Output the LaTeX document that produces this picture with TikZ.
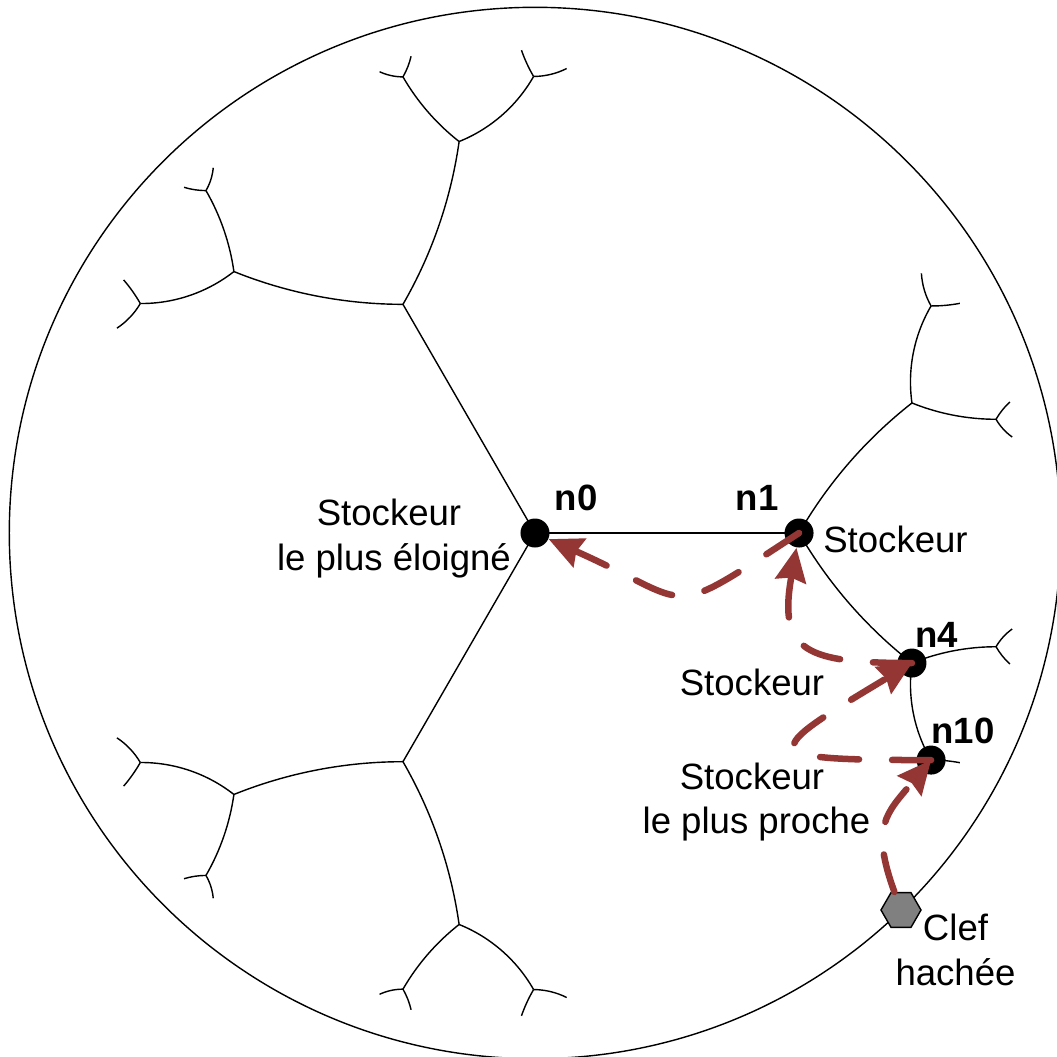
\documentclass[tikz,border=0pt]{standalone}
\usepackage{fontspec}
\setmainfont{Liberation Sans}
\usetikzlibrary{calc,arrows.meta,shapes.geometric}
\definecolor{rouge}{RGB}{148,54,52}
\tikzset{
  treeline/.style={draw=black, line width=0.4pt},
  disk/.style={x=5.257cm, y=5.257cm},
  dot/.style={circle, fill=black, minimum size=0.29cm, inner sep=0pt},
  keyhex/.style={regular polygon, regular polygon sides=6, minimum size=0.40cm, inner sep=0pt, draw=black, line width=0.4pt, fill=black!50},
  lbl/.style={anchor=base, inner sep=0pt, font=\fontsize{10.4pt}{12pt}\selectfont},
  nlbl/.style={anchor=base, inner sep=0pt, font=\fontsize{10.4pt}{12pt}\selectfont\bfseries},
  route/.style={draw=rouge, line width=0.065cm, line cap=round, dash pattern=on 0.39cm off 0.33cm,
    -{Stealth[length=0.34cm,width=0.32cm,inset=0.04cm,fill=rouge,line width=0.5pt]}}
}
% one half of a branch of the hyperbolic tree (Poincare disk, unit radius)
\newcommand\halfbranch[1]{%
  \coordinate (#1n) at (0.502,0);
  \coordinate (#1a) at (0.716651,0.247196);
  \coordinate (#1b) at (0.752986,0.431656);
  \coordinate (#1c) at (0.876497,0.216215);
  \coordinate (#1s) at (0.734632,0.493614);
  \coordinate (#1t) at (0.807744,0.436665);
  \coordinate (#1u) at (0.902753,0.249190);
  \coordinate (#1v) at (0.907190,0.182524);
  \draw[treeline] (#1n) .. controls ($(#1n)+(60:0.11014)$) and ($(#1a)+(218.062:0.11014)$) .. (#1a);
  \draw[treeline] (#1a) .. controls ($(#1a)+(98.062:0.06446)$) and ($(#1b)+(239.648:0.06446)$) .. (#1b);
  \draw[treeline] (#1a) .. controls ($(#1a)+(-21.938:0.05477)$) and ($(#1c)+(180:0.05477)$) .. (#1c);
  \draw[treeline] (#1b) .. controls ($(#1b)+(119.648:0.02183)$) and ($(#1s)+(273.35:0.02183)$) .. (#1s);
  \draw[treeline] (#1b) .. controls ($(#1b)+(-0.352:0.01837)$) and ($(#1t)+(190.81:0.01837)$) .. (#1t);
  \draw[treeline] (#1c) .. controls ($(#1c)+(60:0.01413)$) and ($(#1u)+(222.94:0.01413)$) .. (#1u);
  \draw[treeline] (#1c) .. controls ($(#1c)+(-60:0.01537)$) and ($(#1v)+(144.66:0.01537)$) .. (#1v);
}
\begin{document}
\begin{tikzpicture}[x=0.01cm, y=0.01cm]
\useasboundingbox (-535,-523) rectangle (522,533);
\clip (-535,-523) rectangle (522,533);
\fill[white] (-535,-523) rectangle (522,533);
% boundary circle
\coordinate (o) at (0,0);
\draw[treeline] (o) circle[radius=525.7];
% tree
\begin{scope}[disk]\halfbranch{ra}\end{scope}
\begin{scope}[disk,yscale=-1]\halfbranch{rb}\end{scope}
\begin{scope}[disk,rotate=120]\halfbranch{ua}\end{scope}
\begin{scope}[disk,rotate=120,yscale=-1]\halfbranch{ub}\end{scope}
\begin{scope}[disk,rotate=240]\halfbranch{la}\end{scope}
\begin{scope}[disk,rotate=240,yscale=-1]\halfbranch{lb}\end{scope}
\draw[treeline] (o) -- (ran);
\draw[treeline] (o) -- (uan);
\draw[treeline] (o) -- (lan);
% nodes
\node[dot] (n0) at (o) {};
\node[dot] (n1) at (ran) {};
\node[dot] (n4) at (rba) {};
\node[dot] (n10) at (rbb) {};
\node[keyhex] (key) at (366,-377) {};
% labels
\node[lbl] (t0a) at (-146,8) {Stockeur};
\node[lbl] (t0b) at (-141,-37) {le plus éloigné};
\node[nlbl] (l0) at (41,23) {n0};
\node[nlbl] (l1) at (222,23) {n1};
\node[lbl] (t1) at (360.5,-19) {Stockeur};
\node[nlbl] (l4) at (401.5,-114) {n4};
\node[lbl] (t4) at (217,-162) {Stockeur};
\node[nlbl] (l10) at (428,-210) {n10};
\node[lbl] (t10a) at (217,-256) {Stockeur};
\node[lbl] (t10b) at (221.5,-300) {le plus proche};
\node[lbl] (tka) at (420.5,-407) {Clef};
\node[lbl] (tkb) at (420.5,-452) {hachée};
% routing
\draw[route] (key) to[out=110,in=230,out distance=0.7cm,in distance=0.7cm] (n10.center);
\draw[route] (n10.center) to[out=180,in=211,distance=1.78cm] (n4.center);
\draw[route] (n4.center) to[out=180,in=260,looseness=1.66] (n1);
\draw[route] (n1.center) to[out=213,in=336,looseness=1.67] (n0);
\end{tikzpicture}
\end{document}
